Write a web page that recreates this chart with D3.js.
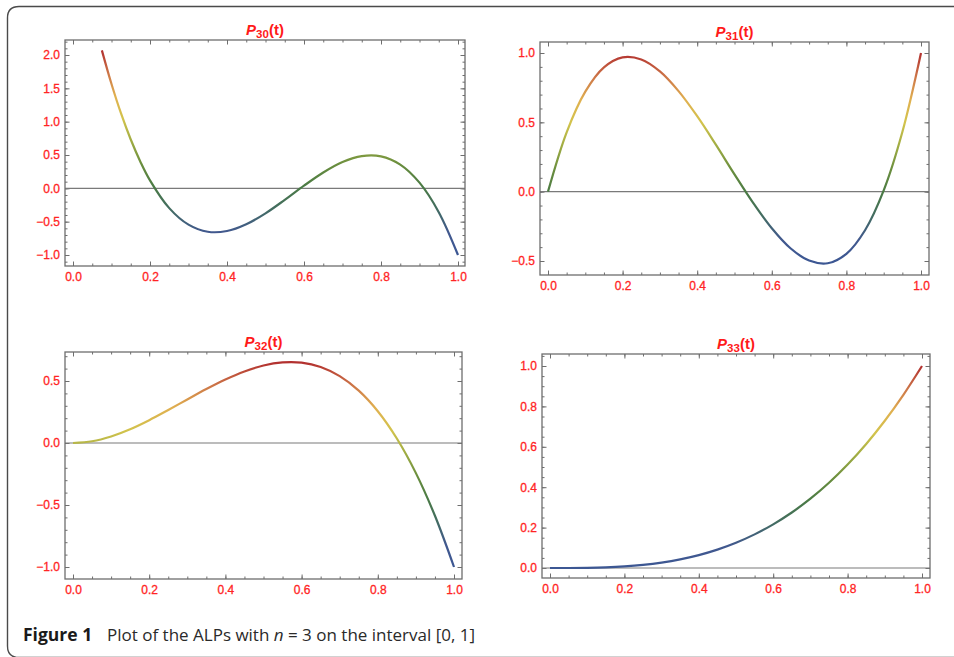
<!DOCTYPE html>
<html>
<head>
<meta charset="utf-8">
<script src="https://cdn.jsdelivr.net/npm/d3@7"></script>
<style>
  html, body { margin: 0; padding: 0; background: #fff; }
  svg { display: block; }
</style>
</head>
<body>
<div id="chart"></div>
<script>
// values
const tAll = [0, 0.05, 0.1, 0.15, 0.2, 0.25, 0.3, 0.35, 0.4, 0.45, 0.5,
              0.55, 0.6, 0.65, 0.7, 0.75, 0.8, 0.85, 0.9, 0.95, 1];
const tP30 = [0.075, 0.1, 0.125, 0.15, 0.175, 0.2, 0.25, 0.3, 0.35, 0.4, 0.45, 0.5,
              0.55, 0.6, 0.65, 0.7, 0.75, 0.8, 0.85, 0.9, 0.95, 1];
const p30 = [2.07, 1.565, 1.119, 0.732, 0.40, 0.12, -0.297, -0.545, -0.651, -0.64, -0.539, -0.375,
             -0.173, 0.04, 0.238, 0.395, 0.484, 0.48, 0.356, 0.085, -0.358, -1.0];
const p31 = [0, 0.428, 0.721, 0.896, 0.968, 0.953, 0.867, 0.725, 0.544, 0.339, 0.125,
             -0.081, -0.264, -0.408, -0.497, -0.516, -0.448, -0.278, 0.009, 0.43, 1.0];
const p32 = [0, 0.014, 0.053, 0.111, 0.184, 0.266, 0.351, 0.435, 0.512, 0.577, 0.625,
             0.650, 0.648, 0.613, 0.539, 0.422, 0.256, 0.036, -0.243, -0.587, -1.0];
const p33 = [0, 0.0001, 0.001, 0.0034, 0.008, 0.0156, 0.027, 0.0429, 0.064, 0.0911, 0.125,
             0.1664, 0.216, 0.2746, 0.343, 0.4219, 0.512, 0.6141, 0.729, 0.8574, 1.0];

const xTicks = [0, 0.2, 0.4, 0.6, 0.8, 1.0];
const yTicks30 = [-1.0, -0.5, 0.0, 0.5, 1.0, 1.5, 2.0];
const yTicks31 = [-0.5, 0.0, 0.5, 1.0];
const yTicks32 = [-1.0, -0.5, 0.0, 0.5];
const yTicks33 = [0.0, 0.2, 0.4, 0.6, 0.8, 1.0];

const titles = ["30", "31", "32", "33"];

// dark rainbow colour function (scaled by y)
const rainbow = ["#3c5793", "#41588e", "#436c62", "#4a7a45", "#6a8e3e",
                 "#9fac43", "#d2c34c", "#e0b050", "#cc7447", "#b2302f"];

const width = 954, height = 657;

const svg = d3.select("#chart").append("svg")
  .attr("width", width)
  .attr("height", height);

const defs = svg.append("defs");

// outer box, rounded on the left
svg.append("path")
  .attr("d", "M954,6.5 H19 Q7.5,6.5 7.5,18 V646 Q7.5,657.5 19,657.5 H954")
  .attr("fill", "none")
  .attr("stroke", "#4a4a4a")
  .attr("stroke-width", 1.4);

const panels = [
  { id: 0, t: tP30, v: p30, yTicks: yTicks30, yMinor: 0.1, yDom: [-1, 2], xr: [73, 458], yr: [255, 55], frame: [65, 40, 465, 266] },
  { id: 1, t: tAll, v: p31, yTicks: yTicks31, yMinor: 0.1, yDom: [-0.5, 1], xr: [548, 921], yr: [261, 53], frame: [540, 42, 929, 275] },
  { id: 2, t: tAll, v: p32, yTicks: yTicks32, yMinor: 0.1, yDom: [-1, 0.5], xr: [73, 454], yr: [567, 381], frame: [65, 352, 462, 579] },
  { id: 3, t: tAll, v: p33, yTicks: yTicks33, yMinor: 0.05, yDom: [0, 1], xr: [550, 922], yr: [568, 366], frame: [542, 354, 930, 578] }
];

panels.forEach(p => {
  const [fl, ft, fr, fb] = p.frame;
  const x = d3.scaleLinear().domain([0, 1]).range(p.xr);
  const y = d3.scaleLinear().domain(p.yDom).range(p.yr);
  const g = svg.append("g");

  // minor tick values inside the frame
  const xMinor = d3.range(-0.05, 1.0501, 0.05).filter(v => x(v) > fl + 1 && x(v) < fr - 1);
  const yMinor = d3.range(-2, 3, p.yMinor).filter(v => y(v) < fb - 1 && y(v) > ft + 1);

  const tickCol = "#6e6e6e";

  // minor ticks, four sides
  [[d3.axisBottom(x), fb], [d3.axisTop(x), ft]].forEach(([ax, pos]) => {
    g.append("g").attr("transform", `translate(0,${pos})`)
      .call(ax.tickValues(xMinor).tickSize(-2.5).tickSizeOuter(0).tickFormat(""))
      .call(a => a.select(".domain").remove());
  });
  [[d3.axisLeft(y), fl], [d3.axisRight(y), fr]].forEach(([ax, pos]) => {
    g.append("g").attr("transform", `translate(${pos},0)`)
      .call(ax.tickValues(yMinor).tickSize(-2.5).tickSizeOuter(0).tickFormat(""))
      .call(a => a.select(".domain").remove());
  });

  // major ticks with labels
  g.append("g").attr("class", "lab").attr("transform", `translate(0,${fb})`)
    .call(d3.axisBottom(x).tickValues(xTicks).tickSize(-4.5).tickPadding(6).tickFormat(d3.format(".1f")))
    .call(a => a.select(".domain").remove());
  g.append("g").attr("transform", `translate(0,${ft})`)
    .call(d3.axisTop(x).tickValues(xTicks).tickSize(-4.5).tickFormat(""))
    .call(a => a.select(".domain").remove());
  g.append("g").attr("class", "lab").attr("transform", `translate(${fl},0)`)
    .call(d3.axisLeft(y).tickValues(p.yTicks).tickSize(-4.5).tickPadding(5).tickFormat(d => d3.format(".1f")(d).replace("-", "\u2212")))
    .call(a => a.select(".domain").remove());
  g.append("g").attr("transform", `translate(${fr},0)`)
    .call(d3.axisRight(y).tickValues(p.yTicks).tickSize(-4.5).tickFormat(""))
    .call(a => a.select(".domain").remove());

  g.selectAll(".tick line").attr("stroke", tickCol).attr("stroke-width", 1);
  g.selectAll(".lab text")
    .attr("fill", "#ff2424")
    .attr("stroke", "#ff2424")
    .attr("stroke-width", 0.3)
    .attr("font-family", "'Liberation Sans', Arial, sans-serif")
    .attr("font-size", 12);

  // zero line
  g.append("line")
    .attr("x1", fl).attr("x2", fr)
    .attr("y1", y(0)).attr("y2", y(0))
    .attr("stroke", "#7a7a7a")
    .attr("stroke-width", 1.2);

  // frame
  g.append("rect")
    .attr("x", fl).attr("y", ft)
    .attr("width", fr - fl).attr("height", fb - ft)
    .attr("fill", "none")
    .attr("stroke", tickCol)
    .attr("stroke-width", 1.3);

  // colour by y value
  const [vmin, vmax] = d3.extent(p.v);
  const grad = defs.append("linearGradient")
    .attr("id", "grad" + p.id)
    .attr("gradientUnits", "userSpaceOnUse")
    .attr("x1", 0).attr("x2", 0)
    .attr("y1", y(vmin)).attr("y2", y(vmax));
  rainbow.forEach((c, i) => {
    grad.append("stop")
      .attr("offset", i / (rainbow.length - 1))
      .attr("stop-color", c);
  });

  const line = d3.line()
    .x(d => x(d[0]))
    .y(d => y(d[1]))
    .curve(d3.curveCatmullRom.alpha(0.5));

  g.append("path")
    .datum(p.t.map((t, i) => [t, p.v[i]]))
    .attr("d", line)
    .attr("fill", "none")
    .attr("stroke", `url(#grad${p.id})`)
    .attr("stroke-width", 2.2)
    .attr("stroke-linecap", "butt");

  // title P_nm(t)
  const title = g.append("text")
    .attr("x", (fl + fr) / 2)
    .attr("y", ft - 5.5)
    .attr("text-anchor", "middle")
    .attr("fill", "#ff1a1a")
    .attr("font-family", "'Liberation Sans', Arial, sans-serif")
    .attr("font-weight", "bold")
    .attr("font-size", 15);
  title.append("tspan").attr("font-style", "italic").text("P");
  title.append("tspan").attr("font-size", 11.5).attr("dy", 3).text(titles[p.id]);
  title.append("tspan").attr("dy", -3).text("(t)");
});

// caption
const capFont = "'Open Sans', 'Noto Sans', sans-serif";
svg.append("text")
  .attr("x", 23)
  .attr("y", 641)
  .attr("fill", "#1a1a1a")
  .attr("font-family", capFont)
  .attr("font-weight", "bold")
  .attr("font-size", 17.5)
  .text("Figure 1");
const cap = svg.append("text")
  .attr("x", 107)
  .attr("y", 641)
  .attr("fill", "#2a2a2a")
  .attr("font-family", capFont)
  .attr("font-size", 17);
cap.append("tspan").text("Plot of the ALPs with ");
cap.append("tspan").attr("font-style", "italic").text("n");
cap.append("tspan").text(" = 3 on the interval [0, 1]");
</script>
</body>
</html>
